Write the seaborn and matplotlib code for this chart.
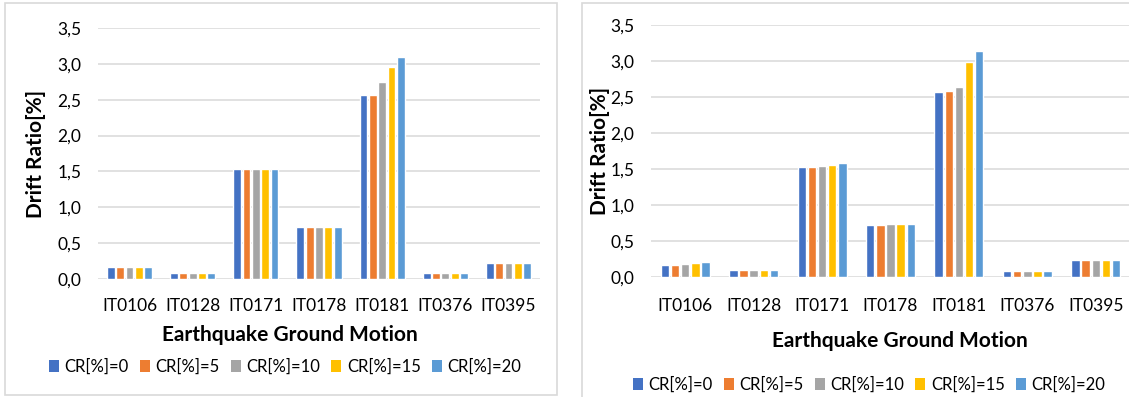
import numpy as np
import pandas as pd
import matplotlib
matplotlib.use("Agg")
import matplotlib.pyplot as plt
from matplotlib.patches import Rectangle
import seaborn as sns

# Ground motion records and cover-ratio series
categories = ["IT0106", "IT0128", "IT0171", "IT0178", "IT0181", "IT0376", "IT0395"]
series = ["CR[%]=0", "CR[%]=5", "CR[%]=10", "CR[%]=15", "CR[%]=20"]
palette = ["#4472C4", "#ED7D31", "#A5A5A5", "#FFC000", "#5B9BD5"]

# Drift ratio [%] - first model
left_cr0 = [0.17, 0.09, 1.53, 0.72, 2.56, 0.08, 0.23]
left_cr5 = [0.17, 0.09, 1.53, 0.72, 2.57, 0.08, 0.23]
left_cr10 = [0.17, 0.09, 1.53, 0.72, 2.75, 0.09, 0.23]
left_cr15 = [0.17, 0.09, 1.53, 0.72, 2.96, 0.09, 0.23]
left_cr20 = [0.17, 0.09, 1.53, 0.72, 3.09, 0.09, 0.23]

# Drift ratio [%] - second model
right_cr0 = [0.17, 0.10, 1.53, 0.72, 2.57, 0.09, 0.23]
right_cr5 = [0.17, 0.10, 1.53, 0.72, 2.59, 0.09, 0.23]
right_cr10 = [0.18, 0.10, 1.54, 0.73, 2.64, 0.09, 0.23]
right_cr15 = [0.19, 0.10, 1.56, 0.73, 2.98, 0.09, 0.23]
right_cr20 = [0.21, 0.10, 1.58, 0.73, 3.14, 0.09, 0.23]

y_ticks = [0.0, 0.5, 1.0, 1.5, 2.0, 2.5, 3.0, 3.5]
y_tick_labels = ["0,0", "0,5", "1,0", "1,5", "2,0", "2,5", "3,0", "3,5"]

x_title = "Earthquake Ground Motion"
y_title = "Drift Ratio[%]"


def long_table(cols):
    rows = []
    for name, vals in zip(series, cols):
        for cat, v in zip(categories, vals):
            rows.append({"record": cat, "series": name, "drift": v})
    return pd.DataFrame(rows)


left_df = long_table([left_cr0, left_cr5, left_cr10, left_cr15, left_cr20])
right_df = long_table([right_cr0, right_cr5, right_cr10, right_cr15, right_cr20])

sns.set_theme(style="white")
plt.rcParams["font.family"] = ["Lato", "DejaVu Sans"]
TEXT = "#000000"
GRID = "#d9d9d9"

W, H = 1129, 397
fig = plt.figure(figsize=(W / 100, H / 100), dpi=100)


def px_rect(x0, y0, x1, y1):
    return [x0 / W, 1 - y1 / H, (x1 - x0) / W, (y1 - y0) / H]


# Chart frames
fig.patches.append(Rectangle((5 / W, 1 - 395 / H), 552 / W, 392 / H,
                             transform=fig.transFigure, fill=False,
                             edgecolor=GRID, linewidth=1.2))
fig.patches.append(Rectangle((582 / W, 1 - 402 / H), 560 / W, 399 / H,
                             transform=fig.transFigure, fill=False,
                             edgecolor=GRID, linewidth=1.2))

ax_l = fig.add_axes(px_rect(98, 28, 540, 279))
ax_r = fig.add_axes(px_rect(651, 25, 1130, 277))


def draw(ax, df, xpad):
    sns.barplot(data=df, x="record", y="drift", hue="series",
                order=categories, hue_order=series, palette=palette,
                width=0.74, gap=0.16, saturation=1, ax=ax, legend=False)
    ax.set_ylim(0, 3.5)
    ax.set_yticks(y_ticks)
    ax.set_yticklabels(y_tick_labels)
    ax.set_axisbelow(True)
    ax.yaxis.grid(True, color=GRID, linewidth=1.1)
    for s in ax.spines.values():
        s.set_visible(False)
    ax.tick_params(axis="both", length=0, labelsize=12.5, colors=TEXT)
    ax.tick_params(axis="y", pad=12)
    ax.tick_params(axis="x", pad=xpad)
    ax.set_xlabel("")
    ax.set_ylabel("")


draw(ax_l, left_df, 14)
draw(ax_r, right_df, 15)

# Axis titles
fig.text(290 / W, 1 - 335 / H, x_title, ha="center", va="center",
         fontsize=15, fontweight="bold", color=TEXT)
fig.text(900 / W, 1 - 341 / H, x_title, ha="center", va="center",
         fontsize=15, fontweight="bold", color=TEXT)
fig.text(36 / W, 1 - 154 / H, y_title, ha="center", va="center",
         rotation=90, fontsize=15, fontweight="bold", color=TEXT)
fig.text(600 / W, 1 - 151 / H, y_title, ha="center", va="center",
         rotation=90, fontsize=15, fontweight="bold", color=TEXT)

# Legends
handles = [Rectangle((0, 0), 1, 1, facecolor=c, edgecolor="none") for c in palette]
for cx, cy in [(285, 367), (869, 385)]:
    fig.legend(handles, series, loc="center", ncol=5,
               bbox_to_anchor=(cx / W, 1 - cy / H), frameon=False,
               fontsize=12, handlelength=0.6, handleheight=0.7,
               handletextpad=0.35, columnspacing=0.65, labelcolor=TEXT)

fig.savefig("out.png", dpi=100)
